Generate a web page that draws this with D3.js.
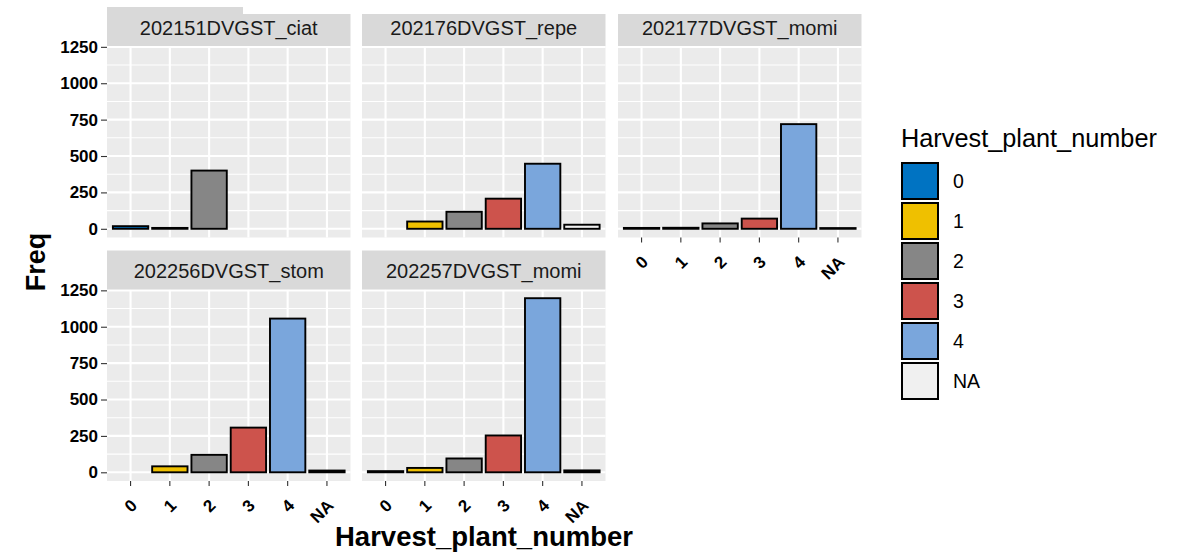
<!DOCTYPE html>
<html>
<head>
<meta charset="utf-8">
<script src="https://cdn.jsdelivr.net/npm/d3@7"></script>
<style>
  html, body { margin: 0; padding: 0; background: #ffffff; }
  svg { display: block; font-family: "Liberation Sans", Arial, Helvetica, sans-serif; }
</style>
</head>
<body>
<svg id="chart" width="1184" height="553"></svg>
<script>
// Categories (x levels) and facet names
const levels = ["0", "1", "2", "3", "4", "NA"];
const facetNames = ["202151DVGST_ciat", "202176DVGST_repe", "202177DVGST_momi", "202256DVGST_stom", "202257DVGST_momi"];

// Frequencies per facet, aligned with `levels` (null = level absent)
const freqCiat151 = [18, 6, 400, null, null, null];
const freqRepe176 = [null, 50, 117, 207, 447, 28];
const freqMomi177 = [6, 7, 37, 70, 719, 5];
const freqStom256 = [null, 41, 120, 307, 1056, 12];
const freqMomi257 = [8, 30, 95, 253, 1196, 13];

// Tick labels for the y axis
const yTicks = [0, 250, 500, 750, 1000, 1250];
const yMinorTicks = [125, 375, 625, 875, 1125];

// Fill colours for each level
const fillColors = ["#0073C2", "#EFC000", "#868686", "#CD534C", "#7AA6DC", "#F0F0F0"];

const facetValues = [freqCiat151, freqRepe176, freqMomi177, freqStom256, freqMomi257];

const svg = d3.select("#chart");

// Panel geometry
const colLeft = [107, 362, 618];
const panelW = 243.5;
const stripH = 39;
const plotH = 191.5;
const rowStripTop = [7, 250.5];

// Shared scales (fixed across facets)
const yMax = d3.max(facetValues.flat().filter(v => v != null));
const yPad = yMax * 0.05;
const y = d3.scaleLinear().domain([-yPad, yMax + yPad]).range([plotH, 0]);
// 6 bands of width 0.9 with 0.6 units of expansion on each side
const x = d3.scaleBand().domain(levels).range([0, panelW]).paddingInner(0.1).paddingOuter(0.15);
const color = d3.scaleOrdinal().domain(levels).range(fillColors);

const panels = facetNames.map((name, i) => ({
  name,
  values: facetValues[i],
  col: i % 3,
  row: Math.floor(i / 3),
  showX: i >= 2,
  showY: i % 3 === 0
}));

panels.forEach(p => {
  const px = colLeft[p.col];
  const sy = rowStripTop[p.row];
  const py = sy + stripH;
  const g = svg.append("g").attr("transform", `translate(${px},${py})`);

  // strip
  svg.append("rect")
    .attr("x", px).attr("y", sy).attr("width", panelW).attr("height", stripH)
    .attr("fill", "#D9D9D9");
  svg.append("text")
    .attr("x", px + panelW / 2).attr("y", sy + stripH / 2 + 1)
    .attr("text-anchor", "middle").attr("dominant-baseline", "central")
    .attr("font-size", 20).attr("fill", "#1A1A1A")
    .text(p.name);

  // panel background
  g.append("rect").attr("width", panelW).attr("height", plotH).attr("fill", "#EBEBEB");

  // minor grid
  g.selectAll(".ymin").data(yMinorTicks).join("line")
    .attr("x1", 0).attr("x2", panelW)
    .attr("y1", d => y(d)).attr("y2", d => y(d))
    .attr("stroke", "#ffffff").attr("stroke-width", 1.1);
  // major grid
  g.selectAll(".ymaj").data(yTicks).join("line")
    .attr("x1", 0).attr("x2", panelW)
    .attr("y1", d => y(d)).attr("y2", d => y(d))
    .attr("stroke", "#ffffff").attr("stroke-width", 2.1);
  g.selectAll(".xmaj").data(levels).join("line")
    .attr("x1", d => x(d) + x.bandwidth() / 2).attr("x2", d => x(d) + x.bandwidth() / 2)
    .attr("y1", 0).attr("y2", plotH)
    .attr("stroke", "#ffffff").attr("stroke-width", 2.1);

  // bars
  const bars = levels.map((lv, k) => ({ level: lv, value: p.values[k] })).filter(d => d.value != null);
  g.selectAll(".bar").data(bars).join("rect")
    .attr("x", d => x(d.level)).attr("width", x.bandwidth())
    .attr("y", d => y(d.value)).attr("height", d => y(0) - y(d.value))
    .attr("fill", d => color(d.level))
    .attr("stroke", "#000000").attr("stroke-width", 1.9);

  // y axis
  if (p.showY) {
    const ya = g.append("g").call(d3.axisLeft(y).tickValues(yTicks).tickFormat(d3.format("d")).tickSize(6).tickPadding(3));
    ya.select(".domain").remove();
    ya.selectAll(".tick line").attr("stroke", "#333333").attr("stroke-width", 1.1);
    ya.selectAll(".tick text")
      .attr("font-family", "Liberation Sans, Arial, sans-serif")
      .attr("font-size", 17).attr("font-weight", "bold").attr("fill", "#000000");
  }

  // x axis
  if (p.showX) {
    const xa = g.append("g").attr("transform", `translate(0,${plotH})`)
      .call(d3.axisBottom(x).tickSize(5).tickPadding(3));
    xa.select(".domain").remove();
    xa.selectAll(".tick line").attr("stroke", "#333333").attr("stroke-width", 1.1);
    xa.selectAll(".tick text")
      .attr("font-family", "Liberation Sans, Arial, sans-serif")
      .attr("font-size", 17).attr("font-weight", "bold").attr("fill", "#000000")
      .attr("text-anchor", "end")
      .attr("x", 0).attr("y", 0).attr("dy", "0.72em")
      .attr("transform", "translate(-1,17) rotate(-45)");
  }
});

// white band across the top edge
svg.append("rect").attr("x", 243).attr("y", 0).attr("width", 1184 - 243).attr("height", 14).attr("fill", "#ffffff");

// axis titles
svg.append("text")
  .attr("transform", "translate(45,262) rotate(-90)")
  .attr("text-anchor", "middle")
  .attr("font-size", 27).attr("font-weight", "bold").attr("fill", "#000000")
  .text("Freq");
svg.append("text")
  .attr("x", 484).attr("y", 546)
  .attr("text-anchor", "middle")
  .attr("font-size", 27.5).attr("font-weight", "bold").attr("fill", "#000000")
  .text("Harvest_plant_number");

// legend
const legend = svg.append("g").attr("transform", "translate(901,0)");
legend.append("text")
  .attr("x", 0).attr("y", 147)
  .attr("font-size", 25.3).attr("fill", "#000000")
  .text("Harvest_plant_number");
const keys = legend.selectAll(".key").data(levels).join("g")
  .attr("transform", (d, i) => `translate(0,${162 + i * 40})`);
keys.append("rect")
  .attr("x", 1).attr("y", 1).attr("width", 36).attr("height", 36)
  .attr("fill", d => color(d)).attr("stroke", "#000000").attr("stroke-width", 2);
keys.append("text")
  .attr("x", 52).attr("y", 19).attr("dominant-baseline", "central")
  .attr("font-size", 19.5).attr("fill", "#000000")
  .text(d => d);
</script>
</body>
</html>
